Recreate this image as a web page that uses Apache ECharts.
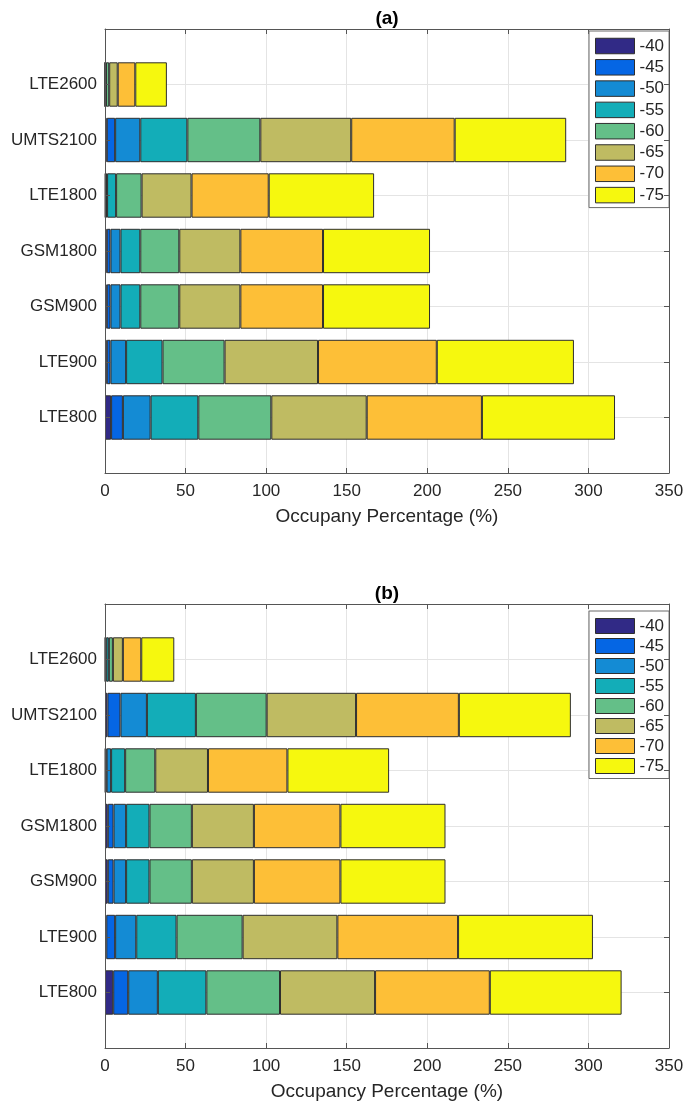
<!DOCTYPE html>
<html>
<head>
<meta charset="utf-8">
<script src="https://cdn.jsdelivr.net/npm/echarts@6/dist/echarts.min.js"></script>
<style>
  html, body { margin: 0; padding: 0; background: #fff; }
  #chart { width: 699px; height: 1104px; }
</style>
</head>
<body>
<div id="chart"></div>
<script>
// Frequency bands, bottom to top
const bands = ['LTE800', 'LTE900', 'GSM900', 'GSM1800', 'LTE1800', 'UMTS2100', 'LTE2600'];
// Signal level thresholds (dBm)
const levels = ['-40', '-45', '-50', '-55', '-60', '-65', '-70', '-75'];
const levelColors = ['#312a86', '#0566e4', '#148bd4', '#13adb8', '#64bf88', '#bfbb62', '#fdbf37', '#f6f80e'];
const xTicks = { min: 0, max: 350, step: 50 };

// Panel (a): occupancy per level, one row per threshold, values follow `bands`
const occA_m40 = [3.8, 1.1, 1.1, 1.1, 0.3, 1.1, 0.1];
const occA_m45 = [7.3, 2.3, 2.3, 2.3, 0.5, 5.2, 0.1];
const occA_m50 = [17.2, 9.7, 6.2, 6.2, 0.5, 15.6, 0.1];
const occA_m55 = [29.6, 22.6, 12.3, 12.3, 5.6, 29.2, 0.3];
const occA_m60 = [45.3, 38.5, 24.2, 24.2, 15.8, 45.3, 2.0];
const occA_m65 = [59.2, 58.0, 37.9, 37.9, 31.0, 56.4, 5.3];
const occA_m70 = [71.5, 73.7, 51.3, 51.3, 47.9, 64.2, 10.9];
const occA_m75 = [82.6, 85.1, 66.4, 66.4, 65.4, 69.2, 19.6];

// Panel (b)
const occB_m40 = [5.1, 0.8, 1.7, 1.7, 0.3, 1.5, 0.2];
const occB_m45 = [9.3, 5.5, 3.6, 3.6, 0.7, 8.1, 0.2];
const occB_m50 = [18.4, 13.1, 7.8, 7.8, 2.8, 16.4, 0.4];
const occB_m55 = [30.1, 25.0, 14.5, 14.5, 8.7, 30.4, 1.6];
const occB_m60 = [45.7, 41.0, 26.3, 26.3, 18.7, 43.9, 2.5];
const occB_m65 = [59.0, 58.8, 38.5, 38.5, 32.7, 55.5, 6.2];
const occB_m70 = [71.2, 74.9, 53.7, 53.7, 49.3, 63.8, 11.4];
const occB_m75 = [81.8, 83.7, 65.2, 65.2, 63.1, 69.5, 20.5];

const panelA = [occA_m40, occA_m45, occA_m50, occA_m55, occA_m60, occA_m65, occA_m70, occA_m75];
const panelB = [occB_m40, occB_m45, occB_m50, occB_m55, occB_m60, occB_m65, occB_m70, occB_m75];

const FONT = "'Liberation Sans', Arial, Helvetica, sans-serif";
const TEXT = '#262626';
const AXIS = '#555555';
const GRID = '#e4e4e4';

// Empty slots at both ends give the y range 0..8 with bands at 1..7
const yCats = [''].concat(bands, ['']);

// Ticks point into the plot area
const innerTick = { show: true, inside: true, length: 5, lineStyle: { color: AXIS, width: 1 } };
const boxLine = { show: true, onZero: false, lineStyle: { color: AXIS, width: 1 } };

const panels = [
  { top: 29, title: '(a)', xName: 'Occupany Percentage (%)', values: panelA,
    legendTop: 31, legendItemH: 15.5, legendGap: 4.3 },
  { top: 604, title: '(b)', xName: 'Occupancy Percentage (%)', values: panelB,
    legendTop: 611, legendItemH: 15, legendGap: 3 }
];

const grids = [], xAxes = [], yAxes = [], series = [], legends = [], graphics = [];

panels.forEach((p, k) => {
  grids.push({ left: 105, right: 30, top: p.top, height: 444, containLabel: false });

  // bottom value axis with labels and vertical grid lines
  xAxes.push({
    type: 'value', gridIndex: k, position: 'bottom',
    min: xTicks.min, max: xTicks.max, interval: xTicks.step,
    name: p.xName, nameLocation: 'middle', nameGap: 34,
    nameTextStyle: { fontFamily: FONT, fontSize: 19, color: TEXT },
    axisLine: boxLine,
    axisTick: innerTick,
    axisLabel: { fontFamily: FONT, fontSize: 17, color: TEXT, margin: 10 },
    splitLine: { show: true, lineStyle: { color: GRID, width: 1 } }
  });
  // top edge of the box
  xAxes.push({
    type: 'value', gridIndex: k, position: 'top',
    min: xTicks.min, max: xTicks.max, interval: xTicks.step,
    axisLine: boxLine,
    axisTick: innerTick,
    axisLabel: { show: false },
    splitLine: { show: false }
  });
  // left category axis, drawn above the bars
  yAxes.push({
    type: 'category', gridIndex: k, position: 'left', data: yCats, boundaryGap: false,
    axisLine: boxLine,
    axisTick: innerTick,
    axisLabel: { fontFamily: FONT, fontSize: 17, color: TEXT, margin: 8, interval: 0 },
    splitLine: { show: false },
    z: 20
  });
  // right edge of the box
  yAxes.push({
    type: 'category', gridIndex: k, position: 'right', data: yCats, boundaryGap: false,
    axisLine: boxLine,
    axisTick: innerTick,
    axisLabel: { show: false },
    splitLine: { show: false },
    z: 20
  });
  // horizontal grid lines, behind the bars
  yAxes.push({
    type: 'category', gridIndex: k, position: 'left', data: yCats, boundaryGap: false,
    axisLine: { show: false, onZero: false },
    axisTick: { show: false },
    axisLabel: { show: false },
    splitLine: { show: true, lineStyle: { color: GRID, width: 1 } },
    z: 0
  });

  levels.forEach((lv, i) => {
    series.push({
      type: 'bar', name: lv, stack: 'panel' + k,
      xAxisIndex: k * 2, yAxisIndex: k * 3,
      barWidth: '80%',
      data: [null].concat(p.values[i], [null]),
      itemStyle: { color: levelColors[i], borderColor: '#2e2e2e', borderWidth: 1 },
      emphasis: { disabled: true },
      z: 3
    });
  });

  legends.push({
    orient: 'vertical', left: 589, top: p.legendTop,
    itemWidth: 39, itemHeight: p.legendItemH, itemGap: p.legendGap,
    padding: [6.5, 5, 4, 6],
    backgroundColor: '#ffffff', borderColor: '#6a6a6a', borderWidth: 1, borderRadius: 0,
    icon: 'rect', selectedMode: false,
    itemStyle: { borderColor: '#2e2e2e', borderWidth: 1 },
    textStyle: { fontFamily: FONT, fontSize: 17, color: TEXT },
    data: levels,
    z: 10
  });

  graphics.push({
    type: 'text', x: 387, y: p.top - 10,
    style: { text: p.title, font: 'bold 19px ' + FONT, fill: '#000', align: 'center', verticalAlign: 'middle' }
  });
});

const chart = echarts.init(document.getElementById('chart'), null, { renderer: 'canvas' });
chart.setOption({
  animation: false,
  backgroundColor: '#ffffff',
  grid: grids,
  xAxis: xAxes,
  yAxis: yAxes,
  legend: legends,
  graphic: graphics,
  series: series
});
</script>
</body>
</html>
